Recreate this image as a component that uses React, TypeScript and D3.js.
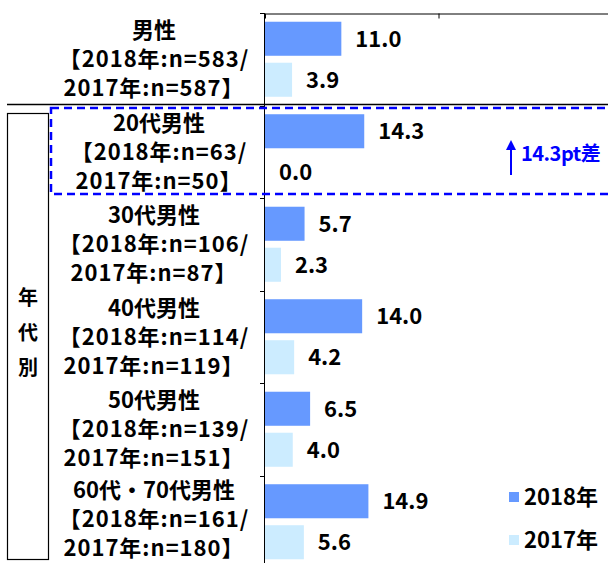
import { useRef, useEffect } from 'react';
import * as d3 from 'd3';

// chart data
const categories = ['男性', '20代男性', '30代男性', '40代男性', '50代男性', '60代・70代男性'];
const sampleLines = [
  ['【2018年:n=583/', '2017年:n=587】'],
  ['【2018年:n=63/', '2017年:n=50】'],
  ['【2018年:n=106/', '2017年:n=87】'],
  ['【2018年:n=114/', '2017年:n=119】'],
  ['【2018年:n=139/', '2017年:n=151】'],
  ['【2018年:n=161/', '2017年:n=180】'],
];
const series = ['2018年', '2017年'];
const values2018 = [11.0, 14.3, 5.7, 14.0, 6.5, 14.9];
const values2017 = [3.9, 0.0, 2.3, 4.2, 4.0, 5.6];
const groupLabel = ['年', '代', '別'];
const diffNote = '14.3pt差';

const W = 608;
const H = 563;
const JP = '"Noto Sans CJK JP", "Noto Sans", sans-serif';
const colors = ['#6699FF', '#CCECFF'];
const noteBlue = '#0000FF';

export default function App() {
  const svgRef = useRef<SVGSVGElement>(null);

  useEffect(() => {
    if (!svgRef.current) return;
    const svg = d3.select(svgRef.current);
    svg.selectAll('*').remove();

    const x = d3.scaleLinear().domain([0, 50]).range([265, 612]);
    const y = d3.scaleBand<string>().domain(categories).range([13, 568]);
    const yInner = d3.scaleBand<string>()
      .domain(series)
      .range([0, y.bandwidth()])
      .paddingInner(0.17)
      .paddingOuter(0.213);

    const rows = categories.map((c, i) => ({
      cat: c,
      vals: [values2018[i], values2017[i]],
      lines: [c, ...sampleLines[i]],
    }));

    // bars + value labels
    const g = svg.append('g');
    rows.forEach(r => {
      series.forEach((s, j) => {
        const v = r.vals[j];
        const yy = (y(r.cat) as number) + (yInner(s) as number);
        g.append('rect')
          .attr('x', x(0))
          .attr('y', yy)
          .attr('width', x(v) - x(0))
          .attr('height', yInner.bandwidth())
          .attr('fill', colors[j]);
        g.append('text')
          .attr('x', x(v) + 14)
          .attr('y', yy + yInner.bandwidth() / 2)
          .attr('dy', '0.36em')
          .attr('font-family', JP)
          .attr('font-weight', 'bold')
          .attr('font-size', 22)
          .attr('fill', '#000')
          .text(v.toFixed(1));
      });
    });

    // left axis + ticks at category boundaries
    svg.append('line')
      .attr('x1', 264.5).attr('x2', 264.5)
      .attr('y1', 13).attr('y2', H)
      .attr('stroke', '#000').attr('stroke-width', 1);
    categories.forEach(c => {
      const yy = Math.round(y(c) as number) + 0.5;
      svg.append('line')
        .attr('x1', 260).attr('x2', 265)
        .attr('y1', yy).attr('y2', yy)
        .attr('stroke', '#000');
    });

    // top axis (no labels)
    const topAxis = d3.axisTop(x).tickValues([0, 25, 50]).tickSizeInner(-5).tickSizeOuter(0).tickFormat(() => '');
    svg.append('g')
      .attr('transform', 'translate(0,13.5)')
      .call(topAxis)
      .call(a => a.selectAll('path,line').attr('stroke', '#000'));

    // category labels (last row nudged up so it stays inside the frame)
    rows.forEach((r, i) => {
      const top = (y(r.cat) as number) - (i === rows.length - 1 ? 3 : 0);
      const cx = i === 1 ? 159 : 154;
      r.lines.forEach((t, k) => {
        svg.append('text')
          .attr('x', cx)
          .attr('y', top + 17.5 + k * 29)
          .attr('dy', '0.36em')
          .attr('text-anchor', 'middle')
          .attr('font-family', JP)
          .attr('font-weight', 'bold')
          .attr('font-size', 22)
          .attr('letter-spacing', k === 0 ? 0 : 1)
          .attr('fill', '#000')
          .text(t);
      });
    });

    // separator line under the total row
    svg.append('line')
      .attr('x1', 7).attr('x2', W)
      .attr('y1', 104.5).attr('y2', 104.5)
      .attr('stroke', '#000').attr('stroke-width', 1.5);

    // age group box
    svg.append('rect')
      .attr('x', 7.5).attr('y', 113.5)
      .attr('width', 41).attr('height', 446)
      .attr('fill', 'none').attr('stroke', '#000').attr('stroke-width', 1.2);
    groupLabel.forEach((t, k) => {
      svg.append('text')
        .attr('x', 28)
        .attr('y', 298 + k * 35)
        .attr('dy', '0.36em')
        .attr('text-anchor', 'middle')
        .attr('font-family', JP)
        .attr('font-weight', 'bold')
        .attr('font-size', 20)
        .text(t);
    });

    // dashed highlight box around 20代
    svg.append('rect')
      .attr('x', 51).attr('y', 108)
      .attr('width', W + 10 - 51).attr('height', 86)
      .attr('fill', 'none')
      .attr('stroke', noteBlue)
      .attr('stroke-width', 2.5)
      .attr('stroke-dasharray', '8,5');

    // difference note
    svg.append('line')
      .attr('x1', 511).attr('x2', 511)
      .attr('y1', 148).attr('y2', 175)
      .attr('stroke', noteBlue).attr('stroke-width', 2);
    svg.append('path')
      .attr('d', 'M511,140 L506,150 L516,150 Z')
      .attr('fill', noteBlue);
    svg.append('text')
      .attr('x', 521)
      .attr('y', 154)
      .attr('dy', '0.36em')
      .attr('font-family', JP)
      .attr('font-weight', 'bold')
      .attr('font-size', 20)
      .attr('letter-spacing', -0.5)
      .attr('fill', noteBlue)
      .text(diffNote);

    // legend
    series.forEach((s, j) => {
      const ly = 497 + j * 43;
      svg.append('rect')
        .attr('x', 509).attr('y', ly - 5)
        .attr('width', 10).attr('height', 10)
        .attr('fill', colors[j]);
      svg.append('text')
        .attr('x', 524)
        .attr('y', ly)
        .attr('dy', '0.36em')
        .attr('font-family', JP)
        .attr('font-weight', 'bold')
        .attr('font-size', 22)
        .text(s);
    });
  }, []);

  return (
    <svg
      ref={svgRef}
      width={W}
      height={H}
      style={{ position: 'absolute', left: 0, top: 0, background: '#fff' }}
    />
  );
}
